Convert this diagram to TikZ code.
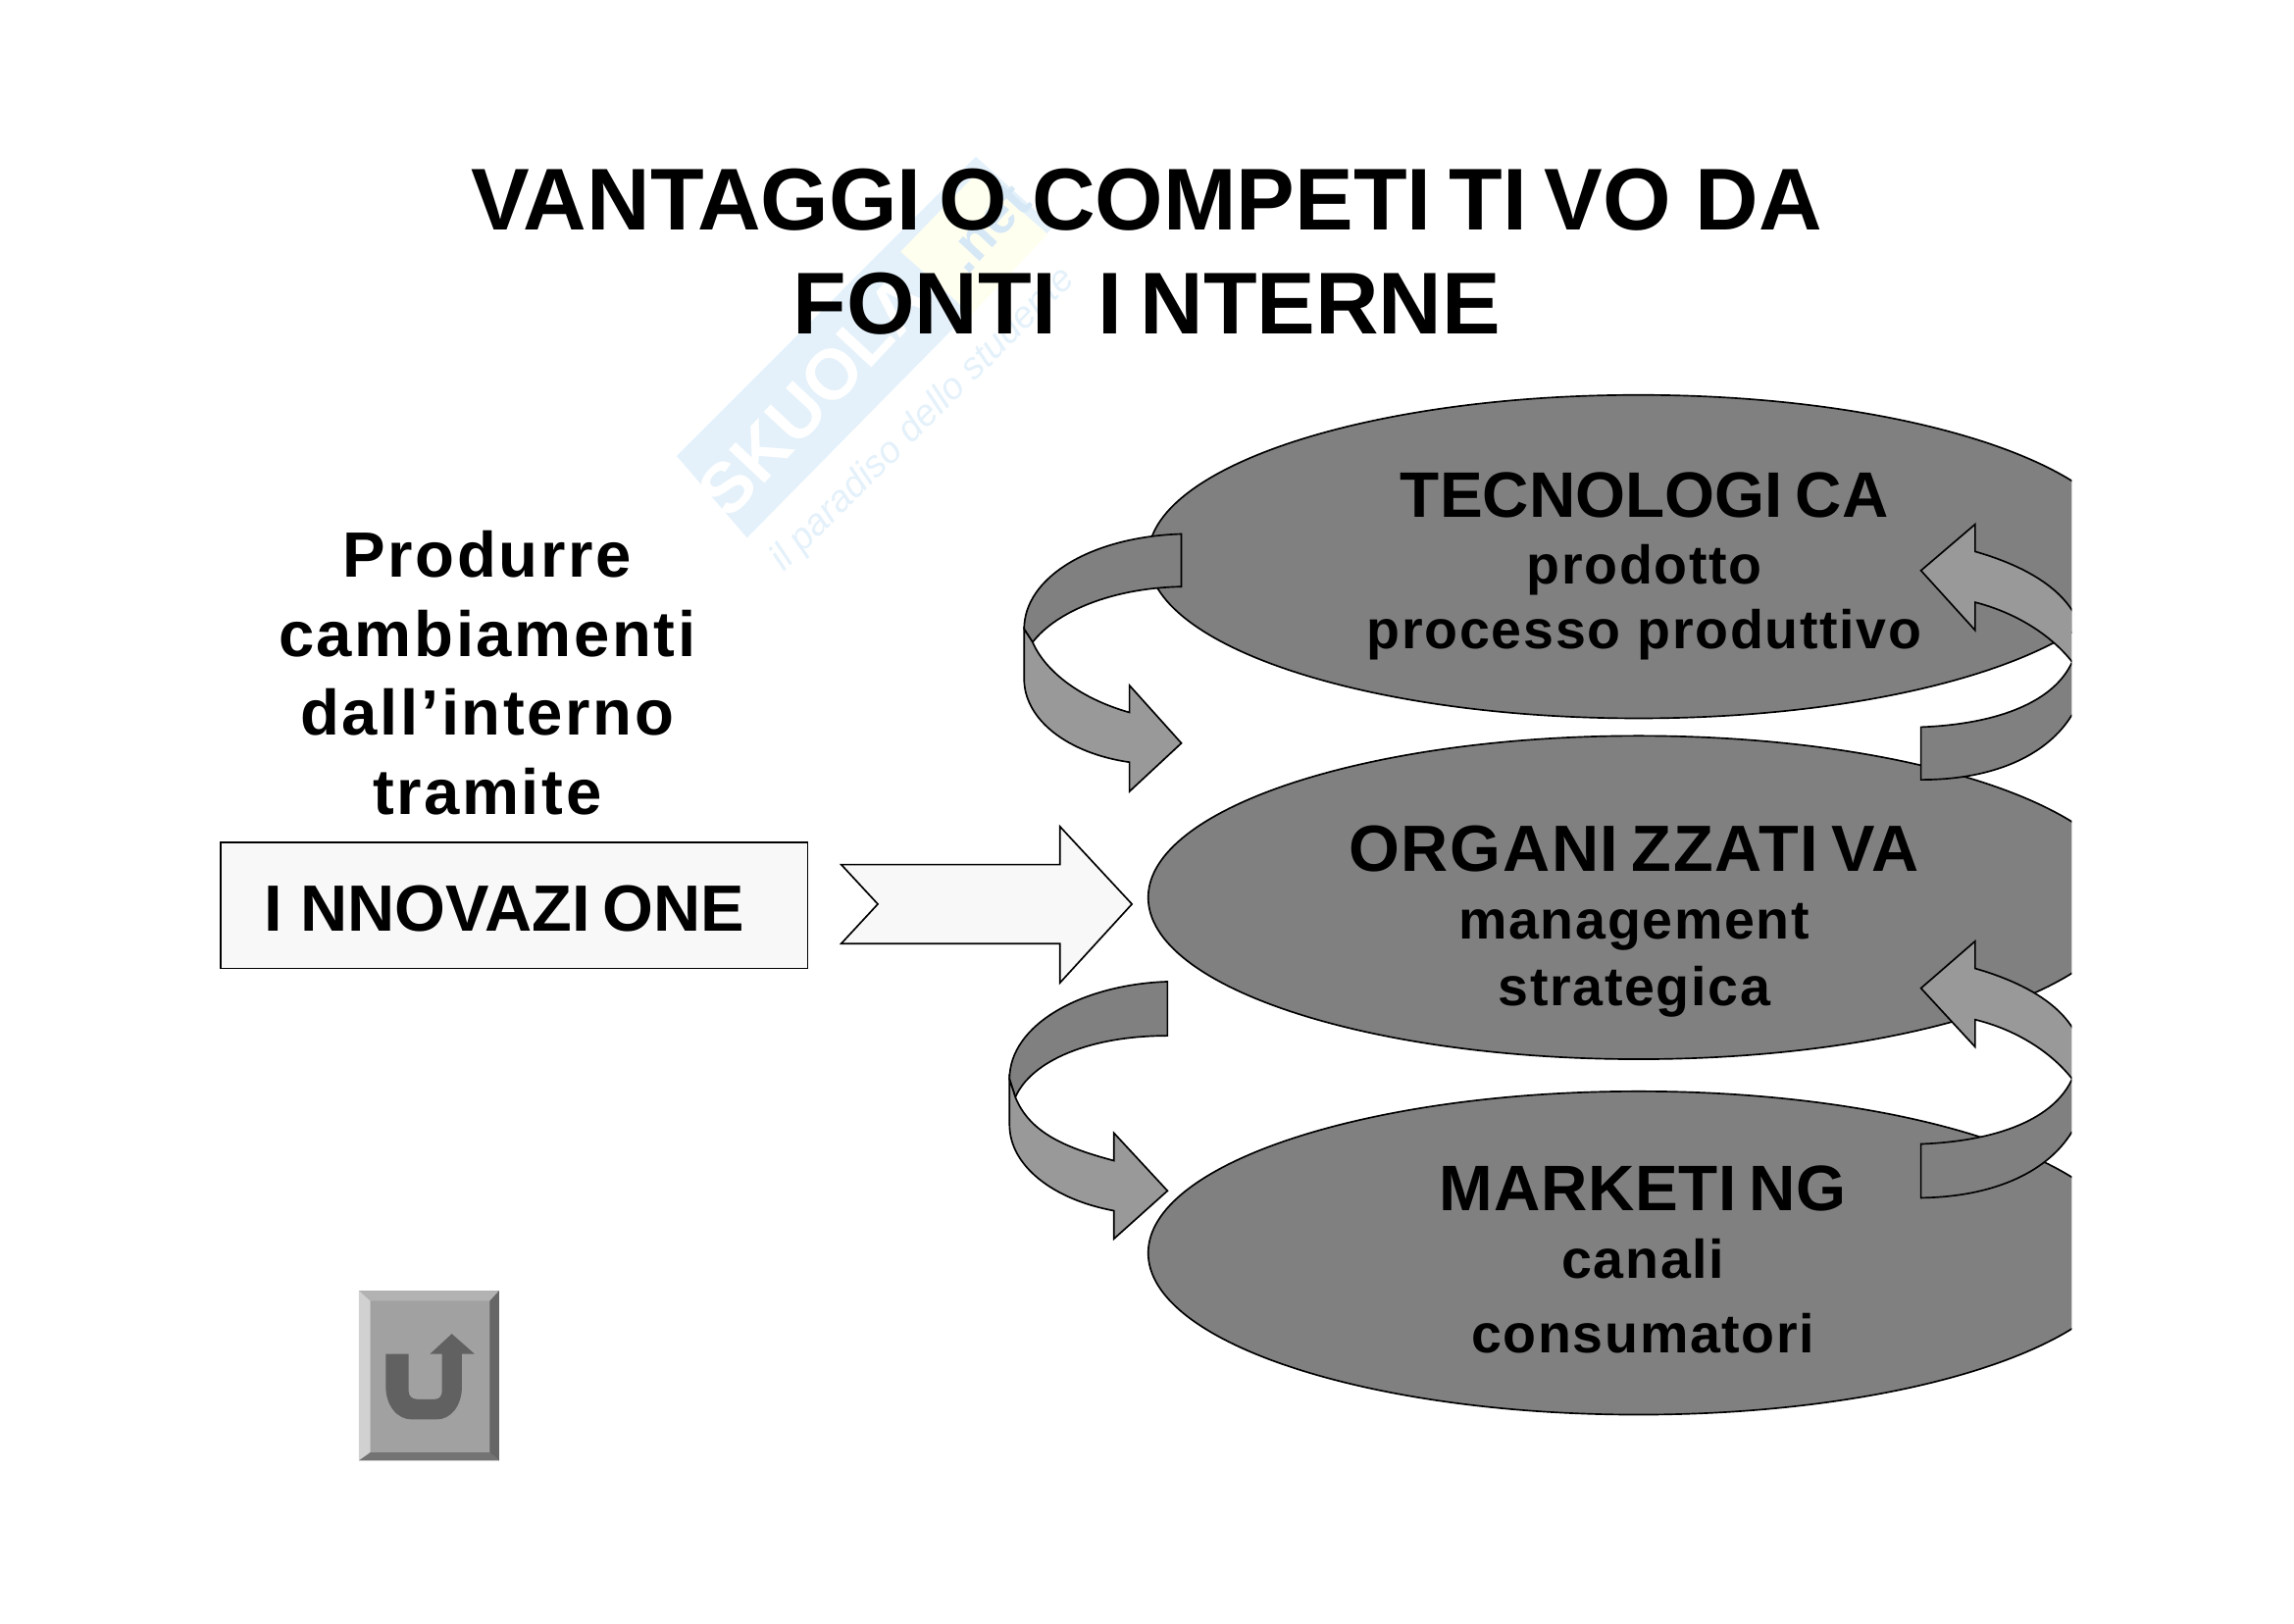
\documentclass[tikz,border=0pt]{standalone}
\usepackage{fontspec}
\setmainfont{Liberation Sans}
\usetikzlibrary{shapes.geometric}
\definecolor{ovalgray}{HTML}{808080}
\definecolor{bandgray}{HTML}{999999}
\definecolor{paper}{HTML}{F8F8F8}
\definecolor{markblue}{HTML}{E4F1FA}
\definecolor{markyellow}{HTML}{FFFFF0}
\definecolor{netblue}{HTML}{D6E8F6}
\newcommand{\ik}{\kern .2em}
\newcommand{\sized}[2]{\fontsize{#1}{#2}\selectfont\bfseries}
\begin{document}
\begin{tikzpicture}[
    x=0.537pt, y=-0.537pt,
    oval/.style={ellipse, draw, fill=ovalgray, line width=0.6pt, minimum width=360pt, minimum height=118.7pt, inner sep=0pt, outer sep=0pt},
    ovaltext/.style={align=center, font=\sized{20}{24.7}\addfontfeature{LetterSpace=3}},
    leftline/.style={align=center, font=\sized{23.5}{29}\addfontfeature{LetterSpace=4}},
    bandback/.style={draw, fill=ovalgray, line width=0.6pt},
    bandfront/.style={draw, fill=bandgray, line width=0.6pt}
]
    \useasboundingbox (0,0) rectangle (1568,1110);

    % Watermark
    \fill[markblue] (462.5,311.7) -- (510.6,367.6) -- (720,155) -- (667,107) -- cycle;
    \fill[markyellow] (615.6,172) -- (668,118) -- (716,160) -- (664,215) -- cycle;
    \node[rotate=47, text=white, font=\sized{26}{26}] (skuola) at (556,270) {SKUOLA};
    \node[rotate=47, text=netblue, font=\sized{20}{20}] (net) at (675,156) {.net};
    \node[rotate=45, text=markblue, font=\fontsize{13.7}{13.7}\selectfont\itshape] (motto) at (631,287) {il paradiso dello studente};

    % Title
    \node[align=center, font=\sized{32.2}{38.2}] (title) at (784,172) {VANTAGGI\ik O COMPETI\ik TI\ik VO DA\\FONTI\ik\ I\ik NTERNE};

    % Left column
    \node[leftline] (produrre) at (333,460) {Produrre\\cambiamenti\\dall’interno\\tramite};
    \node[draw, fill=paper, line width=0.6pt, minimum width=215.3pt, minimum height=46.2pt, inner sep=0pt, text height=19pt, text depth=0pt, font=\sized{24}{24}] (innovazione) at (351.5,619) {\kern-.3em I\kern .28em NNOVAZI\ik ONE};
    \draw[fill=paper, line width=0.6pt] (575,591) -- (724.5,591) -- (724.5,565) -- (773.7,618) -- (724.5,671.8) -- (724.5,645) -- (575,645) -- (600,618) -- cycle;

    % Ovals and bands, all cut at the right edge
    \begin{scope}
        \clip (0,0) rectangle (1416,1110);
        \node[oval] (tecnologica) at (1120,380.5) {};
        \node[oval] (organizzativa) at (1120,613.5) {};
        \node[oval] (marketing) at (1120,856.5) {};

        % Upper left band
        \draw[bandback] (807.5,365) .. controls (745,367) and (700,395) .. (700,430) -- (705.8,439) .. controls (722,418) and (760,402) .. (807.5,401) -- cycle;
        \draw[bandfront] (700,430) -- (700,464) .. controls (700,492) and (730,515) .. (772,521) -- (772,541) -- (807.5,508) -- (772,468.5) -- (772,487) .. controls (740,478) and (715,460) .. (705.8,439) -- cycle;

        % Lower left band
        \draw[bandback] (798,671) .. controls (740,673) and (690,700) .. (690,737.6) -- (694,750) .. controls (705,725) and (745,708) .. (798,708) -- cycle;
        \draw[bandfront] (690,737.6) -- (690,768.7) .. controls (690,797) and (720,820) .. (761.4,827.6) -- (761.4,846.8) -- (798,814) -- (761.4,774.5) -- (761.4,793.4) .. controls (730,785) and (704,775) .. (694,750) -- cycle;

        % Upper right band
        \draw[bandfront] (1313,390) -- (1350,358.4) -- (1350,377) .. controls (1385,387) and (1408,402) .. (1418,420) -- (1425,452) -- (1416,452) .. controls (1400,432) and (1375,418) .. (1350,411.7) -- (1350,430.8) -- cycle;
        \draw[bandback] (1313,497) .. controls (1365,495) and (1405,480) .. (1417,451) -- (1425,451) -- (1425,488) -- (1416,489) .. controls (1400,515) and (1365,533) .. (1313,533) -- cycle;

        % Lower right band
        \draw[bandfront] (1313,675.5) -- (1350,643.4) -- (1350,662) .. controls (1385,672) and (1408,687) .. (1418,705) -- (1425,737) -- (1416,737) .. controls (1400,717) and (1375,703) .. (1350,697) -- (1350,715.6) -- cycle;
        \draw[bandback] (1313,782) .. controls (1365,780) and (1405,765) .. (1417,736) -- (1425,736) -- (1425,773) -- (1416,774) .. controls (1400,800) and (1365,818) .. (1313,818.8) -- cycle;
    \end{scope}

    % Oval texts
    \node[ovaltext] (tecnotext) at (1124,387) {{\sized{23.6}{24.7}\addfontfeature{LetterSpace=0}TECNOLOGI\ik CA}\\prodotto\\[-1pt]processo produttivo};
    \node[ovaltext] (orgtext) at (1117,630) {{\sized{24}{24.7}\addfontfeature{LetterSpace=2.5}ORGANI\ik ZZATI\ik VA}\\management\\strategica};
    \node[ovaltext] (markettext) at (1123,861) {{\sized{23.6}{24.7}\addfontfeature{LetterSpace=1}MARKETI\ik NG}\\canali\\[2.5pt]consumatori};

    % Return button
    \begin{scope}[shift={(227.9,864.8)}, scale=0.2235]
        \fill[gray!80] (78,78) rectangle (507,598);
        \fill[black!30] (78,78) -- (507,78) -- (478,110) -- (113,110) -- cycle;
        \fill[black!18] (78,78) -- (113,110) -- (113,573) -- (78,598) -- cycle;
        \fill[black!60] (507,78) -- (478,110) -- (478,573) -- (507,598) -- cycle;
        \fill[black!55] (78,598) -- (113,573) -- (478,573) -- (507,598) -- cycle;
        \fill[black!37] (113,110) rectangle (478,573);
        \fill[black!62] (160,272) -- (230,272) -- (230,385) .. controls (230,400) and (240,410) .. (255,410) -- (310,410) .. controls (325,410) and (332,400) .. (332,385) -- (332,272) -- (295,272) -- (362,210) -- (432,272) -- (393,272) -- (393,370) .. controls (393,430) and (360,472) .. (315,472) -- (240,472) .. controls (195,472) and (160,430) .. (160,370) -- cycle;
    \end{scope}
\end{tikzpicture}
\end{document}
